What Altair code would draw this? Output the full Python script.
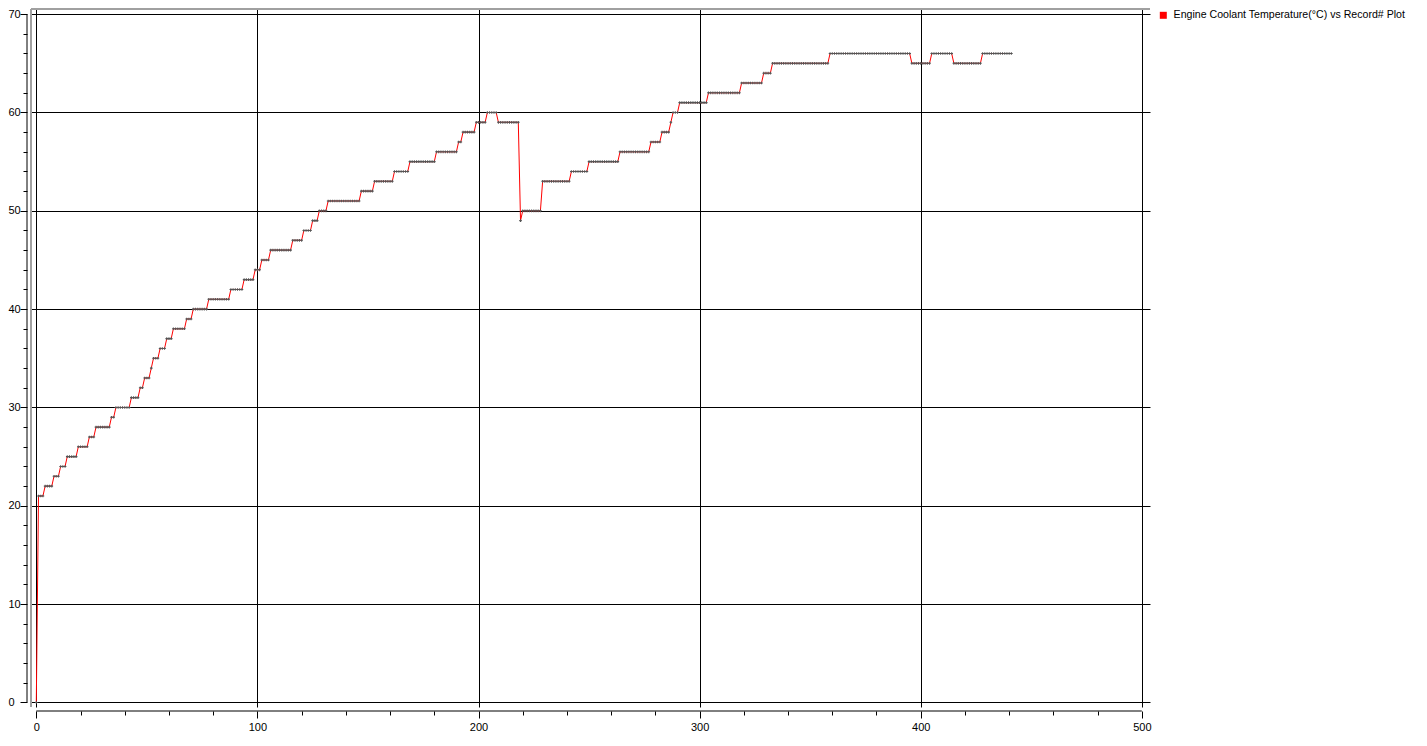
import altair as alt
import pandas as pd

SERIES = "Engine Coolant Temperature(°C) vs Record# Plot"
FONT = "Liberation Sans"

# temperature plateaus (°C) and how many consecutive records sit on each
step_values = [0, 21, 22, 23, 24, 25, 26, 27, 28, 29, 30, 31, 32, 33, 34, 35, 36, 37, 38, 39,
               40, 41, 42, 43, 44, 45, 46, 47, 48, 49, 50, 51, 52, 53, 54, 55, 56, 57, 58, 59,
               60, 59, 49, 50, 53, 54, 55, 56, 57, 58, 59, 60, 61, 62, 63, 64, 65, 66, 65, 66,
               65, 66]
step_counts = [1, 3, 4, 3, 3, 5, 5, 3, 7, 2, 7, 4, 2, 3, 1, 3, 3, 3, 6, 3,
               7, 10, 6, 5, 3, 4, 10, 5, 4, 3, 4, 15, 6, 9, 7, 12, 10, 2, 6, 5,
               5, 10, 1, 9, 13, 8, 14, 14, 5, 4, 1, 3, 13, 15, 10, 4, 26, 37, 9, 10,
               13, 14]

x_ticks = [0, 100, 200, 300, 400, 500]
x_minor = [v for v in range(0, 501, 20) if v % 100]
y_ticks = [0, 10, 20, 30, 40, 50, 60, 70]
y_minor = [v for v in range(0, 71, 2) if v % 10]

temps = []
for v, c in zip(step_values, step_counts):
    temps.extend([v] * c)
df = pd.DataFrame({"record": list(range(len(temps))), "temp": temps, "series": SERIES})
one = pd.DataFrame({"a": [0]})

W, H = 1119, 698
xs = alt.Scale(domain=[-2.4, 503.7], nice=False, zero=False)
ys = alt.Scale(domain=[-0.465, 70.525], nice=False, zero=False)

common_axis = dict(title=None, offset=4, domain=False, tickColor="black", tickWidth=1,
                   labelFont=FONT, labelFontSize=11, labelColor="black", labelOverlap=False)

x_major = alt.Axis(orient="bottom", values=x_ticks, tickSize=7, labelPadding=3, labelFlush=False,
                   grid=True, gridColor="black", gridWidth=1, gridOpacity=1, format="d", **common_axis)
y_major = alt.Axis(orient="left", values=y_ticks, tickSize=7, labelPadding=12, labelAlign="left",
                   grid=True, gridColor="black", gridWidth=1, gridOpacity=1, format="d", **common_axis)
x_min = alt.Axis(orient="bottom", values=x_minor, tickSize=4, labels=False, grid=False, **common_axis)
y_min = alt.Axis(orient="left", values=y_minor, tickSize=4, labels=False, grid=False, **common_axis)

frame_left = alt.Chart(one).mark_rule(color="#a0a0a0", strokeWidth=2).encode(
    x=alt.value(0), y=alt.value(0), y2=alt.value(H))
frame_top = alt.Chart(one).mark_rule(color="#a0a0a0", strokeWidth=2).encode(
    y=alt.value(0), x=alt.value(0), x2=alt.value(W))

line = alt.Chart(df).mark_line(strokeWidth=1).encode(
    x=alt.X("record:Q", scale=xs, axis=x_major),
    y=alt.Y("temp:Q", scale=ys, axis=y_major),
    color=alt.Color("series:N", scale=alt.Scale(domain=[SERIES], range=["#ff0000"]),
                    legend=alt.Legend(title=None, orient="none", legendX=1127, legendY=1,
                                      padding=0, symbolType="square", symbolSize=49,
                                      symbolFillColor="#ff0000", symbolStrokeWidth=0,
                                      labelFont=FONT, labelFontSize=10.6, labelColor="black",
                                      labelOffset=5, labelLimit=0)),
)
points = alt.Chart(df).mark_point(shape="cross", filled=True, size=7, color="#555555", opacity=1).encode(
    x=alt.X("record:Q", scale=xs, axis=x_min),
    y=alt.Y("temp:Q", scale=ys, axis=y_min),
)

y_domain = alt.Chart(one).mark_rule(color="black", strokeWidth=1).encode(
    x=alt.value(-4), y=alt.YDatum(0, axis=None), y2=alt.Y2Datum(70))
x_domain = alt.Chart(one).mark_rule(color="black", strokeWidth=1).encode(
    y=alt.value(H + 4), x=alt.XDatum(0, axis=None), x2=alt.X2Datum(500))

chart = alt.layer(frame_left, frame_top, line, points, y_domain, x_domain).resolve_axis(
    x="independent", y="independent"
).properties(
    width=W, height=H,
    autosize=alt.AutoSizeParams(type="none"),
    padding={"left": 23, "top": 1, "right": 267, "bottom": 24},
    background="white",
).configure_view(stroke=None)

chart.save("out.html", embed_options={"renderer": "svg", "actions": False})
